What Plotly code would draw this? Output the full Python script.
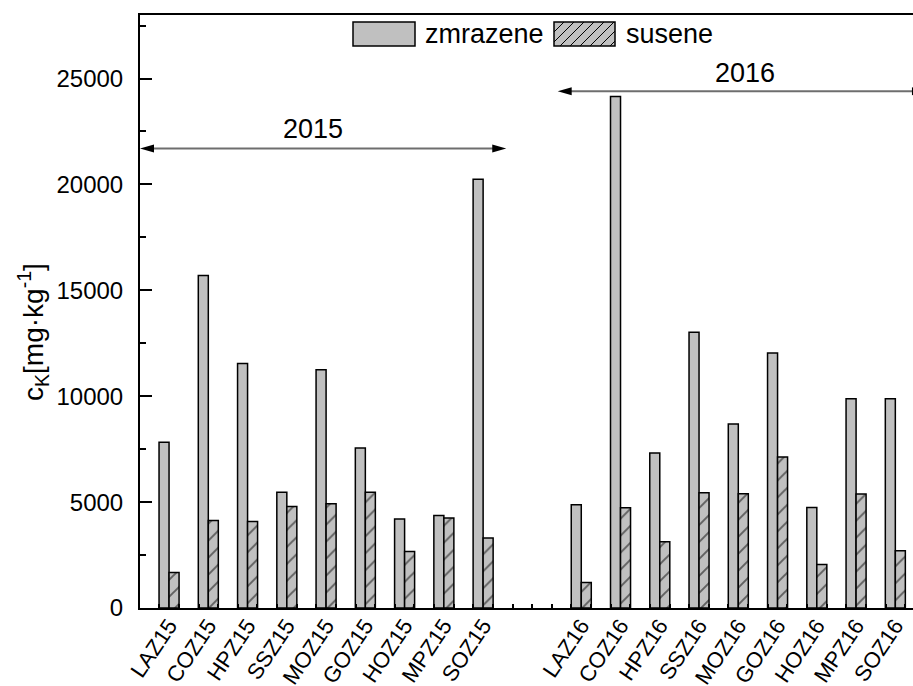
import plotly.graph_objects as go

# ---- data -------------------------------------------------------------
labels_2015 = ["LAZ15", "COZ15", "HPZ15", "SSZ15", "MOZ15", "GOZ15", "HOZ15", "MPZ15", "SOZ15"]
labels_2016 = ["LAZ16", "COZ16", "HPZ16", "SSZ16", "MOZ16", "GOZ16", "HOZ16", "MPZ16", "SOZ16"]

zmrazene_2015 = [7830, 15700, 11550, 5470, 11250, 7560, 4200, 4370, 20250]
susene_2015 = [1680, 4130, 4080, 4790, 4920, 5460, 2670, 4250, 3310]
zmrazene_2016 = [4870, 24150, 7320, 13020, 8690, 12040, 4750, 9880, 9880]
susene_2016 = [1200, 4730, 3130, 5440, 5390, 7130, 2050, 5380, 2700]

series_names = ["zmrazene", "susene"]
year_labels = ["2015", "2016"]
y_title = "c<sub>K</sub>[mg·kg<sup>-1</sup>]"

# ---- layout constants ---------------------------------------------------
W, H = 913, 686
M_L, M_R, M_T, M_B = 140, 0, 15, 78
PLOT_W = W - M_L - M_R
PLOT_H = H - M_T - M_B
FONT = "Liberation Sans, Arial, sans-serif"
GRAY = "#c0c0c0"

SEASON_GAP = 1.5          # empty slots between the two seasons
X_MIN, X_MAX = -0.74, 18.95
Y_MIN, Y_MAX = 0, 28000

x_2015 = list(range(len(labels_2015)))
x_2016 = [len(labels_2015) + SEASON_GAP + i for i in range(len(labels_2016))]
x_all = x_2015 + x_2016

px_per_x = PLOT_W / (X_MAX - X_MIN)
px_per_y = PLOT_H / (Y_MAX - Y_MIN)


def px_to_paper(px, py):
    return (px - M_L) / PLOT_W, (H - M_B - py) / PLOT_H


fig = go.Figure()

fig.add_trace(go.Bar(
    x=x_all, y=zmrazene_2015 + zmrazene_2016, name=series_names[0],
    marker=dict(color=GRAY, line=dict(color="black", width=1.5)),
    showlegend=False,
))
fig.add_trace(go.Bar(
    x=x_all, y=susene_2015 + susene_2016, name=series_names[1],
    marker=dict(color=GRAY, line=dict(color="black", width=1.5),
                pattern=dict(shape="/", fgcolor="black", size=12,
                             solidity=0.16, fillmode="overlay")),
    showlegend=False,
))
# carrier for the secondary tick axis
fig.add_trace(go.Scatter(x=[], y=[], xaxis="x2", showlegend=False, hoverinfo="skip"))

# ---- season arrows ------------------------------------------------------
ARROW_2015 = (X_MIN, 8.59, 21700)
ARROW_2016 = (9.9, X_MAX + 0.33, 24400)
HEAD_LEN_PX, HEAD_HALF_PX = 14, 4
shapes = []
for x0, x1, yv in (ARROW_2015, ARROW_2016):
    hl = HEAD_LEN_PX / px_per_x
    hh = HEAD_HALF_PX / px_per_y
    shapes.append(dict(type="line", xref="x", yref="y", x0=x0 + hl * 0.5, x1=x1 - hl * 0.5,
                       y0=yv, y1=yv, line=dict(color="#6e6e6e", width=2)))
    shapes.append(dict(type="path", xref="x", yref="y",
                       path=f"M {x0},{yv} L {x0 + hl},{yv + hh} L {x0 + hl},{yv - hh} Z",
                       fillcolor="black", line=dict(width=0)))
    shapes.append(dict(type="path", xref="x", yref="y",
                       path=f"M {x1},{yv} L {x1 - hl},{yv + hh} L {x1 - hl},{yv - hh} Z",
                       fillcolor="black", line=dict(width=0)))

annotations = [
    dict(x=3.67, y=22630, xref="x", yref="y", text=year_labels[0], showarrow=False,
         font=dict(family=FONT, size=27, color="black")),
    dict(x=14.66, y=25270, xref="x", yref="y", text=year_labels[1], showarrow=False,
         font=dict(family=FONT, size=27, color="black")),
]

# y-axis title, placed by hand so it sits a little below the plot centre
tp = px_to_paper(33, 332)
annotations.append(dict(x=tp[0], y=tp[1], xref="paper", yref="paper", text=y_title,
                        textangle=-90, showarrow=False, xanchor="center", yanchor="middle",
                        font=dict(family=FONT, size=28, color="black")))

# ---- legend (large swatches) ---------------------------------------------
SW_Y0, SW_Y1 = 22, 46
SWATCHES = [(353, 415, 423), (554, 615, 624)]
for i, (sx0, sx1, tx) in enumerate(SWATCHES):
    px0, py0 = px_to_paper(sx0, SW_Y1)
    px1, py1 = px_to_paper(sx1, SW_Y0)
    shapes.append(dict(type="rect", xref="paper", yref="paper", x0=px0, x1=px1, y0=py0, y1=py1,
                       fillcolor=GRAY, line=dict(color="black", width=1.5)))
    if i == 1:
        h = SW_Y1 - SW_Y0
        step = 10
        xb = sx0 - h
        while xb < sx1:
            # line from (xb, bottom) to (xb + h, top), clipped to swatch
            a0, b0 = xb, SW_Y1
            a1, b1 = xb + h, SW_Y0
            if a0 < sx0:
                b0 -= (sx0 - a0)
                a0 = sx0
            if a1 > sx1:
                b1 += (a1 - sx1)
                a1 = sx1
            if a1 > a0 + 0.5:
                q0 = px_to_paper(a0, b0)
                q1 = px_to_paper(a1, b1)
                shapes.append(dict(type="line", xref="paper", yref="paper",
                                   x0=q0[0], y0=q0[1], x1=q1[0], y1=q1[1],
                                   line=dict(color="black", width=1)))
            xb += step
    tx_p, ty_p = px_to_paper(tx, (SW_Y0 + SW_Y1) / 2)
    annotations.append(dict(x=tx_p, y=ty_p, xref="paper", yref="paper", text=series_names[i],
                            showarrow=False, xanchor="left", yanchor="middle",
                            font=dict(family=FONT, size=27, color="black")))

minor_ticks = []
t = -0.25
while t <= X_MAX:
    if t >= X_MIN:
        minor_ticks.append(t)
    t += 0.5

fig.update_layout(
    width=W, height=H,
    margin=dict(l=M_L, r=M_R, t=M_T, b=M_B, autoexpand=False),
    paper_bgcolor="white", plot_bgcolor="white",
    barmode="group", bargap=0.49, bargroupgap=0,
    font=dict(family=FONT, color="black"),
    shapes=shapes, annotations=annotations,
    xaxis=dict(range=[X_MIN, X_MAX], tickvals=x_all, ticktext=labels_2015 + labels_2016,
               tickangle=-56, ticks="", showline=True, linewidth=2, linecolor="black",
               mirror=True, showgrid=False, zeroline=False, ticklabelstandoff=-6,
               tickfont=dict(family=FONT, size=22, color="black")),
    xaxis2=dict(overlaying="x", matches="x", anchor="y", side="bottom",
                tickvals=minor_ticks, ticks="inside", ticklen=4, tickwidth=1.5,
                tickcolor="black", showticklabels=False, showline=False,
                showgrid=False, zeroline=False),
    yaxis=dict(range=[Y_MIN, Y_MAX], dtick=5000, tickformat="d", ticks="inside",
               ticklen=12, tickwidth=2,
               tickcolor="black", showline=True, linewidth=2, linecolor="black",
               mirror=False, showgrid=False, zeroline=False,
               minor=dict(dtick=2500, ticks="inside", ticklen=6, tickwidth=2, tickcolor="black"),
               ticklabelstandoff=10,
               tickfont=dict(family=FONT, size=24, color="black")),
)

fig.write_html("out.html")
